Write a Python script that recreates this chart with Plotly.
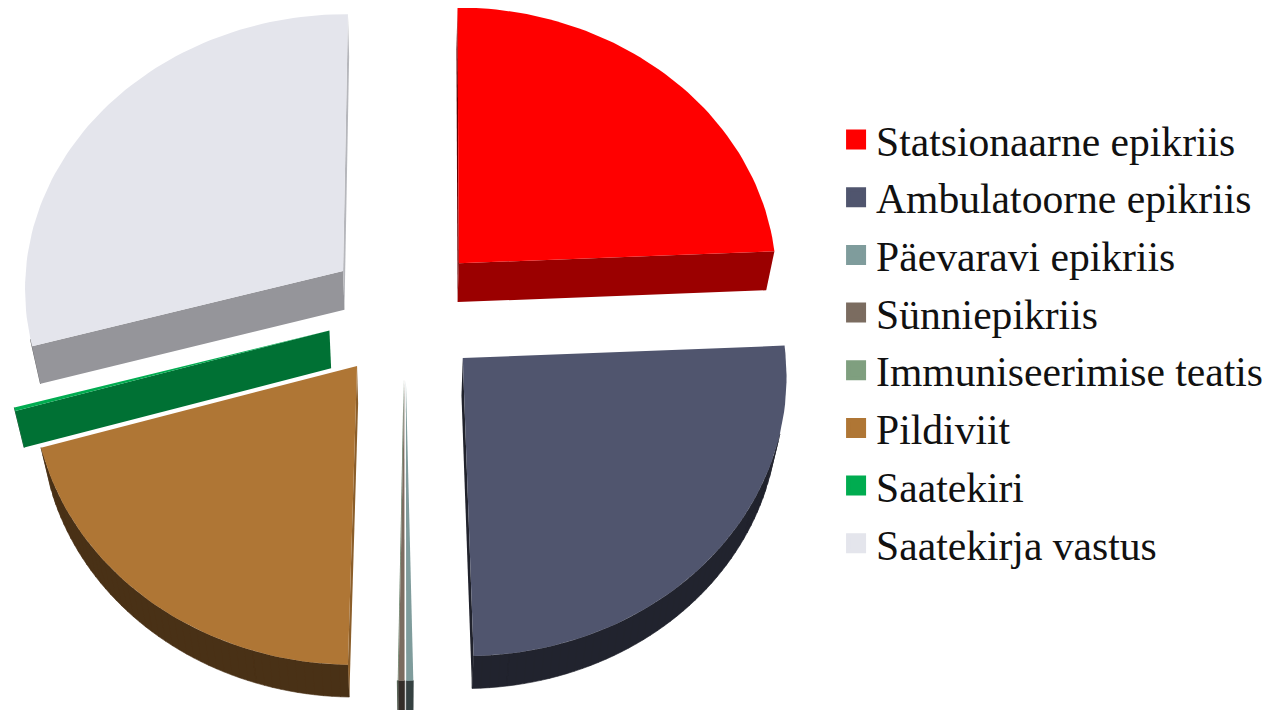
import math
import plotly.graph_objects as go

categories = ["Statsionaarne epikriis", "Ambulatoorne epikriis", "Päevaravi epikriis", "Sünniepikriis",
              "Immuniseerimise teatis", "Pildiviit", "Saatekiri", "Saatekirja vastus"]
values = [24.2, 25.36, 0.33, 0.28, 0.02, 20.1, 0.2, 29.48]
colors = ["#FF0000", "#50556E", "#7F9C9C", "#7B6C60", "#7F9F7F", "#AF7635", "#00AC50", "#E4E5EC"]

PULL = 0.245
HEIGHT = 0.24
TILT = math.radians(30.5)
DIST = 9.0
FOCAL = 2880.0
CX, CY = 397.0, 303.5
START_DEG = 0.3


def project(x, y, z):
    w = DIST + y * math.sin(TILT) - z * math.cos(TILT)
    v = y * math.cos(TILT) + z * math.sin(TILT)
    return CX + FOCAL * x / w, CY - FOCAL * v / w


def shade(hex_col, f):
    r, g, b = int(hex_col[1:3], 16), int(hex_col[3:5], 16), int(hex_col[5:7], 16)
    return f"rgb({int(r*f)},{int(g*f)},{int(b*f)})"


def area(poly):
    return sum(poly[i][0] * poly[(i + 1) % len(poly)][1] - poly[(i + 1) % len(poly)][0] * poly[i][1]
               for i in range(len(poly))) / 2


def add_polys(fig, polys, color, name, line_width=0.0):
    if not polys:
        return
    xs, ys = [], []
    for poly in polys:
        closed = poly + poly[:1]
        xs += [p[0] for p in closed] + [None]
        ys += [p[1] for p in closed] + [None]
    fig.add_trace(go.Scatter(x=xs, y=ys, mode="lines", fill="toself", fillcolor=color,
                             line=dict(color=color, width=line_width), name=name, legendgroup=name,
                             showlegend=False, hoverinfo="name"))


def add_slice(fig, a0, a1, col, name):
    mid = (a0 + a1) / 2
    cx, cy = PULL * math.sin(mid), PULL * math.cos(mid)
    n = max(1, int((a1 - a0) / math.radians(1.5)) + 1)
    rim = [(cx + math.sin(a0 + (a1 - a0) * i / n), cy + math.cos(a0 + (a1 - a0) * i / n)) for i in range(n + 1)]
    top = lambda p: project(p[0], p[1], 0)
    bot = lambda p: project(p[0], p[1], -HEIGHT)
    c = (cx, cy)
    # On screen (y down) a face seen from outside runs clockwise: keep only those facing the viewer.
    outer = []
    for p, q in zip(rim, rim[1:]):
        face = [top(p), bot(p), bot(q), top(q)]
        if area(face) > 0:
            outer.append(face)
    add_polys(fig, outer, shade(col, 0.42), name, line_width=0.6)
    for (p, q, nx) in ((c, rim[0], -math.cos(a0)), (rim[-1], c, math.cos(a1))):
        face = [top(p), bot(p), bot(q), top(q)]
        if area(face) > 0:
            add_polys(fig, [face], shade(col, 0.6 + 0.2 * nx), name)
    add_polys(fig, [[top(c)] + [top(p) for p in rim]], col, name)


total = sum(values)
angles = []
acc = math.radians(START_DEG)
for val in values:
    span = val / total * 2 * math.pi
    angles.append((acc, acc + span))
    acc += span

fig = go.Figure()
# far slices first
order = sorted(range(len(values)), key=lambda i: -math.cos(sum(angles[i]) / 2))
for i in order:
    add_slice(fig, angles[i][0], angles[i][1], colors[i], categories[i])

for name, col in zip(categories, colors):
    fig.add_trace(go.Scatter(x=[None], y=[None], mode="markers", name=name, legendgroup=name,
                             marker=dict(symbol="square", size=16, color=col, line=dict(color=col, width=4))))

fig.update_layout(
    width=1272, height=710, autosize=False,
    margin=dict(l=0, r=0, t=0, b=0),
    paper_bgcolor="white", plot_bgcolor="white",
    xaxis=dict(visible=False, range=[0, 1272], fixedrange=True),
    yaxis=dict(visible=False, range=[710, 0], fixedrange=True),
    legend=dict(x=0.651, y=0.862, xanchor="left", yanchor="top", tracegroupgap=0.6,
                font=dict(family="Liberation Serif", size=41.6, color="#111111"), itemwidth=30,
                bgcolor="rgba(0,0,0,0)"),
)
fig.write_html("out.html", config=dict(displayModeBar=False))
